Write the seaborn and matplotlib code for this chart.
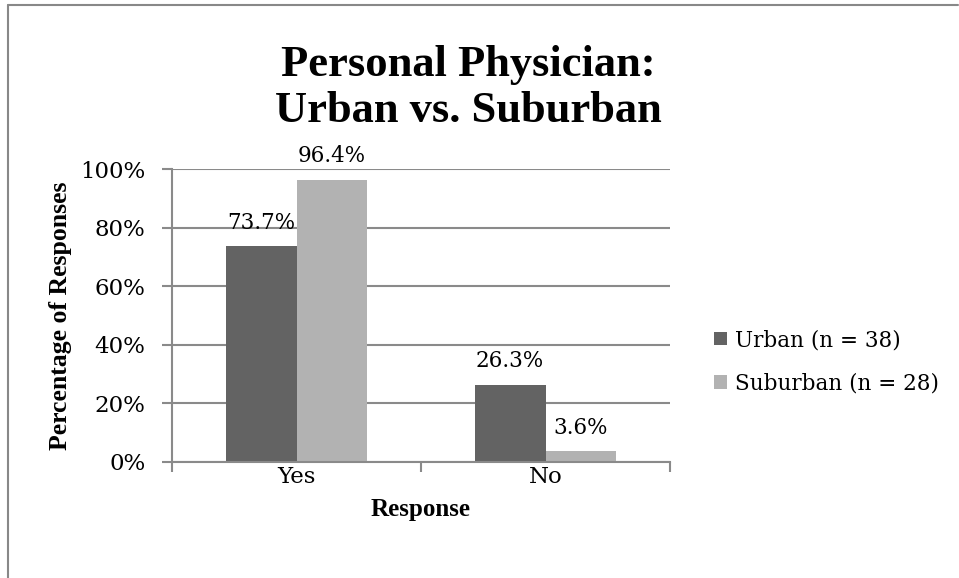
import matplotlib
matplotlib.use("Agg")
import matplotlib.pyplot as plt
import seaborn as sns
import pandas as pd
from matplotlib.lines import Line2D
from matplotlib.patches import Patch

categories = ["Yes", "No"]
series_names = ["Urban (n = 38)", "Suburban (n = 28)"]
urban = [73.7, 26.3]
suburban = [96.4, 3.6]
colors = ["#636363", "#b2b2b2"]
yticks = [0, 20, 40, 60, 80, 100]
title = "Personal Physician:\nUrban vs. Suburban"
xlabel = "Response"
ylabel = "Percentage of Responses"

df = pd.DataFrame({
    "Response": categories * 2,
    "Series": [series_names[0]] * 2 + [series_names[1]] * 2,
    "Value": urban + suburban,
})

sns.set_theme(style="white")
plt.rcParams["font.family"] = ["DejaVu Serif"]
plt.rcParams["text.color"] = "black"
plt.rcParams["axes.labelcolor"] = "black"

fig = plt.figure(figsize=(9.59, 5.78), dpi=100)
ax = fig.add_axes([172/959, 1-462/578, (670-172)/959, (462-169)/578])

sns.barplot(data=df, x="Response", y="Value", hue="Series", order=categories,
            hue_order=series_names, palette=colors, width=0.57, gap=0,
            linewidth=0, saturation=1, ax=ax, legend=False)

ax.set_xlim(-0.5, 1.5)
ax.set_ylim(0, 100)
ax.set_yticks(yticks)
ax.set_yticklabels([f"{v}%" for v in yticks], fontsize=16.5, color="black")
ax.yaxis.grid(True, color="#8a8a8a", linewidth=1.5)
ax.set_axisbelow(True)
ax.tick_params(axis="y", length=7, width=1.5, color="#8a8a8a", pad=12, left=True)

ax.set_xticks([-0.5, 0.5, 1.5])
ax.set_xticklabels([])
ax.set_xticks([0, 1], minor=True)
ax.set_xticklabels(categories, minor=True, fontsize=16.5, color="black")
ax.tick_params(axis="x", which="major", length=7, width=1.5, color="#8a8a8a", bottom=True)
ax.tick_params(axis="x", which="minor", length=0, pad=3)

for side in ["top", "right"]:
    ax.spines[side].set_visible(False)
for side in ["left", "bottom"]:
    ax.spines[side].set_color("#8a8a8a")
    ax.spines[side].set_linewidth(1.5)

for cont in ax.containers:
    ax.bar_label(cont, labels=[f"{v:.1f}%" for v in cont.datavalues],
                 padding=9, fontsize=15.5, color="black")

ax.set_xlabel(xlabel, fontsize=18, fontweight="bold", family="Liberation Serif", labelpad=7)
ax.set_ylabel(ylabel, fontsize=18.5, fontweight="bold", family="Liberation Serif", labelpad=6)

fig.text(468/959, 1-88/578, title, ha="center", va="center", fontsize=32,
         fontweight="bold", family="Liberation Serif", linespacing=1.22, color="black")

handles = [Patch(facecolor=c, edgecolor="none") for c in colors]
fig.legend(handles, series_names, loc="center left", bbox_to_anchor=(695/959, 1-362/578),
           frameon=False, fontsize=15.5, handlelength=0.6, handleheight=0.6,
           handletextpad=0.35, labelspacing=1.0)

fig.add_artist(Line2D([8/959, 8/959], [0, 1-5/578], transform=fig.transFigure,
                      color="#888888", linewidth=1.5))
fig.add_artist(Line2D([8/959, 958/959], [1-5/578, 1-5/578], transform=fig.transFigure,
                      color="#888888", linewidth=1.5))

fig.savefig("out.png", dpi=100)
